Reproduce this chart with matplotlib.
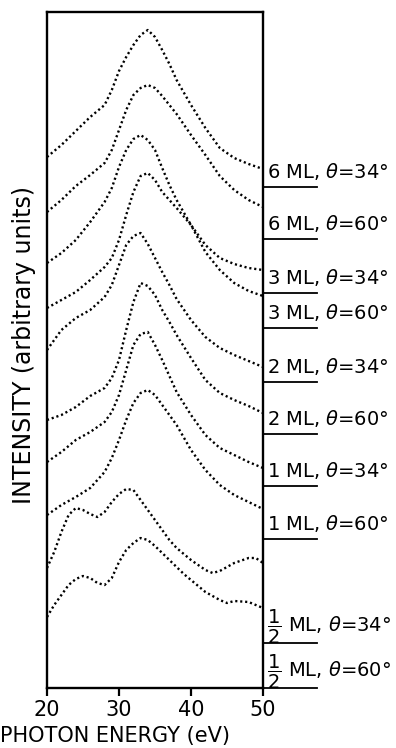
import matplotlib
matplotlib.use('Agg')
import matplotlib.pyplot as plt

# photon energy grid (eV) used for the upper eight spectra
energy = [20, 22, 24, 26, 28, 29, 30, 31, 32, 33, 34, 35, 36, 37, 38, 40, 42, 44, 46, 48, 50]

# intensities (arbitrary units, already stacked)
ml6_34 = [531, 543, 557, 571, 583, 598, 617, 631, 643, 653, 658, 651, 638, 624, 608, 583, 560, 540, 530, 524, 519]
ml6_60 = [476, 488, 502, 513, 525, 538, 558, 578, 593, 600, 603, 600, 592, 583, 574, 553, 533, 512, 498, 488, 481]
ml3_34 = [425, 435, 448, 466, 486, 500, 521, 538, 549, 553, 548, 538, 520, 503, 488, 463, 443, 430, 424, 420, 418]
ml3_60 = [380, 388, 396, 408, 421, 430, 448, 473, 496, 512, 515, 508, 496, 488, 480, 463, 436, 418, 405, 397, 392]
ml2_34 = [338, 358, 370, 378, 391, 403, 423, 443, 452, 455, 444, 430, 416, 403, 389, 368, 351, 340, 333, 327, 321]
ml2_60 = [268, 273, 281, 292, 300, 310, 328, 358, 386, 405, 402, 393, 378, 366, 353, 330, 308, 295, 288, 282, 275]
ml1_34 = [226, 236, 248, 256, 266, 276, 293, 318, 343, 354, 356, 343, 328, 312, 296, 273, 253, 240, 233, 226, 220]
ml1_60 = [173, 183, 191, 200, 216, 230, 248, 268, 285, 295, 298, 293, 283, 273, 263, 238, 218, 203, 193, 186, 179]

# the two half-monolayer spectra
energy_h34 = [20, 21, 22, 23, 24, 25, 26, 27, 28, 29, 30, 31, 32, 33, 34, 35, 36, 37, 38, 40, 42, 43, 44, 45, 46, 48, 49, 50]
mlh_34 = [120, 136, 156, 173, 180, 178, 174, 171, 176, 186, 194, 199, 198, 188, 178, 168, 158, 148, 140, 128, 118, 115, 117, 121, 125, 130, 130, 125]
energy_h60 = [20, 21, 22, 23, 24, 25, 26, 27, 28, 29, 30, 31, 32, 33, 34, 35, 36, 37, 38, 39, 40, 42, 44, 45, 46, 48, 50]
mlh_60 = [71, 83, 93, 103, 109, 112, 110, 105, 103, 110, 126, 138, 145, 150, 148, 142, 135, 128, 121, 114, 108, 96, 88, 85, 87, 86, 80]

labels = ['6 ML', '6 ML', '3 ML', '3 ML', '2 ML', '2 ML', '1 ML', '1 ML',
          r'$\dfrac{1}{2}$ ML', r'$\dfrac{1}{2}$ ML']
angles = [34, 60, 34, 60, 34, 60, 34, 60, 34, 60]
baselines = [501, 449, 395, 360, 306, 254, 202, 149, 45, 0]

spectra = [(energy, ml6_34), (energy, ml6_60), (energy, ml3_34), (energy, ml3_60),
           (energy, ml2_34), (energy, ml2_60), (energy, ml1_34), (energy, ml1_60),
           (energy_h34, mlh_34), (energy_h60, mlh_60)]

fig = plt.figure(figsize=(3.96, 7.48), dpi=100)
ax = fig.add_axes([47 / 396, 60 / 748, 216 / 396, 676 / 748])

for x, y in spectra:
    ax.plot(x, y, color='black', lw=1.7, ls=(0, (0.9, 1.2)))

# baseline markers and labels to the right of the frame
tr = ax.get_yaxis_transform()
for lab, ang, b in zip(labels, angles, baselines):
    ax.plot([1.0, 1.25], [b, b], color='black', lw=1.3, transform=tr, clip_on=False)
    frac = 'frac' in lab
    ax.text(1.02, b + (11 if frac else 5), lab + r', $\theta$=' + str(ang) + '°', transform=tr,
            fontsize=14, va='baseline' if frac else 'bottom', ha='left')

ax.set_xlim(20, 50)
ax.set_ylim(0, 676)
ax.set_xticks([20, 30, 40, 50])
ax.set_yticks([])
ax.tick_params(axis='x', direction='out', length=6, width=1.6, labelsize=15, pad=3)
for s in ax.spines.values():
    s.set_linewidth(1.7)

fig.text(115 / 396, 1 - 736 / 748, 'PHOTON ENERGY (eV)', fontsize=15, ha='center', va='center')
fig.text(24 / 396, 1 - 345 / 748, 'INTENSITY (arbitrary units)', fontsize=17,
         rotation=90, ha='center', va='center')

fig.savefig('out.png', dpi=100)
